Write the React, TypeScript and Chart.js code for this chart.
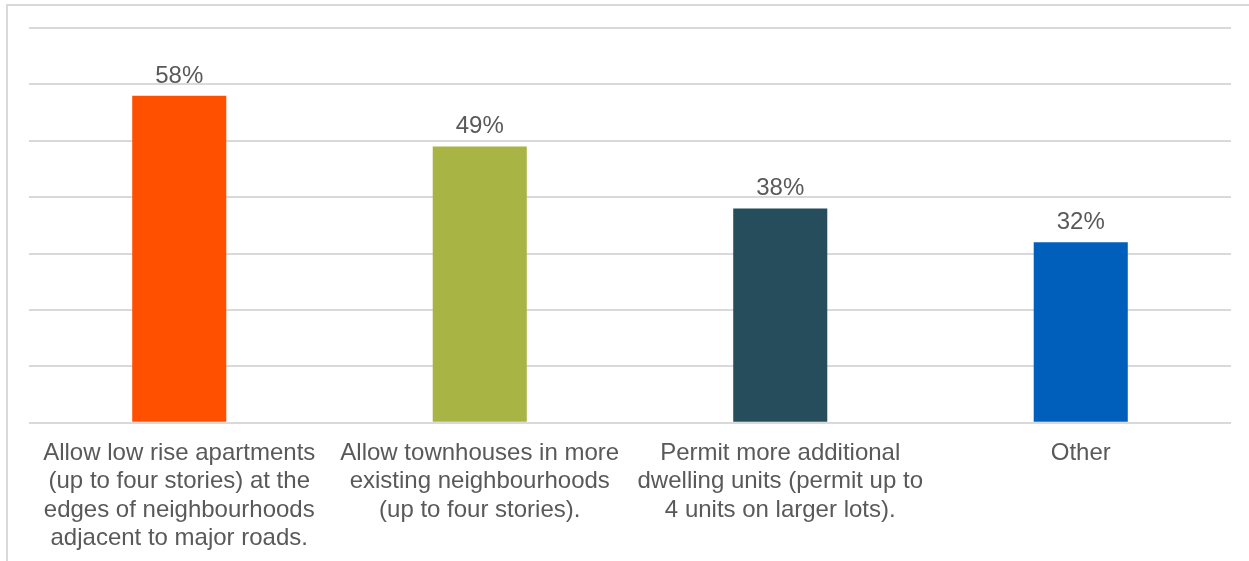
import React, { useEffect, useRef } from "react";
import { Chart, registerables } from "chart.js";

Chart.register(...registerables);

const categories: string[][] = [
  ["Allow low rise apartments", "(up to four stories) at the", "edges of neighbourhoods", "adjacent to major roads."],
  ["Allow townhouses in more", "existing neighbourhoods", "(up to four stories)."],
  ["Permit more additional", "dwelling units (permit up to", "4 units on larger lots)."],
  ["Other"],
];
const values: number[] = [58, 49, 38, 32];
const barColors: string[] = ["#FF5000", "#A8B444", "#254D5C", "#005FBA"];
const yTicks: number[] = [0, 10, 20, 30, 40, 50, 60, 70];

const FONT = "'Liberation Sans', Arial, sans-serif";
const TEXT = "#595959";

const labelPlugin = {
  id: "barLabels",
  afterDatasetsDraw(chart: any) {
    const ctx = chart.ctx;
    const meta = chart.getDatasetMeta(0);
    ctx.save();
    ctx.font = `24px ${FONT}`;
    ctx.fillStyle = TEXT;
    ctx.textAlign = "center";
    ctx.textBaseline = "alphabetic";
    meta.data.forEach((el: any, i: number) => {
      ctx.fillText(`${values[i]}%`, el.x, el.y - 13);
    });
    ctx.restore();
  },
};

export default function App() {
  const ref = useRef<HTMLCanvasElement | null>(null);
  useEffect(() => {
    if (!ref.current) return;
    const chart = new Chart(ref.current, {
      type: "bar",
      data: {
        labels: categories,
        datasets: [
          {
            data: values,
            backgroundColor: barColors,
            categoryPercentage: 1,
            barPercentage: 0.313,
          },
        ],
      },
      options: {
        animation: false,
        responsive: false,
        maintainAspectRatio: false,
        layout: { padding: { left: 29, right: 18, top: 28, bottom: 0 } },
        plugins: { legend: { display: false }, tooltip: { enabled: false } },
        scales: {
          x: {
            grid: { display: false },
            border: { display: false },
            ticks: {
              color: TEXT,
              font: { family: FONT, size: 24, lineHeight: 1.19 },
              maxRotation: 0,
              autoSkip: false,
              padding: 8,
            },
          },
          y: {
            min: 0,
            max: 70,
            afterBuildTicks: (axis: any) => {
              axis.ticks = yTicks.map((v) => ({ value: v }));
            },
            ticks: { display: false },
            border: { display: false },
            grid: { color: "#D9D9D9", lineWidth: 2, drawTicks: false },
          },
        },
      },
      plugins: [labelPlugin],
    });
    return () => chart.destroy();
  }, []);
  return (
    <div style={{ position: "fixed", left: 0, top: 0, width: 1249, height: 561, background: "#fff" }}>
      <div
        style={{
          position: "absolute",
          left: 6,
          top: 4,
          right: -2,
          bottom: -2,
          borderTop: "2px solid #D9D9D9",
          borderLeft: "2px solid #D9D9D9",
        }}
      />
      <canvas ref={ref} width={1249} height={561} style={{ position: "absolute", left: 0, top: 0 }} />
    </div>
  );
}
